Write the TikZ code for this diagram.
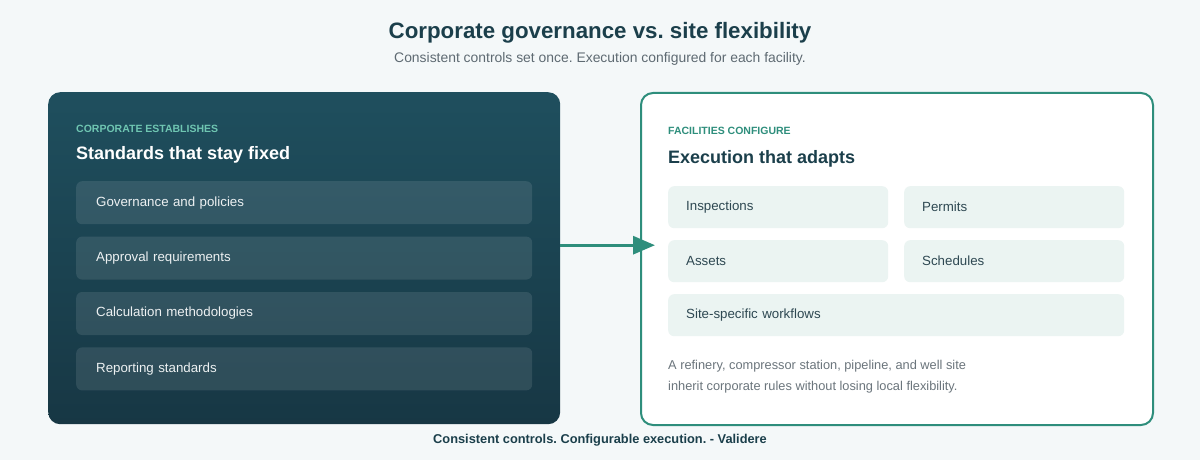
\documentclass[tikz,border=0pt]{standalone}
\usepackage{fontspec}
\setmainfont{Liberation Sans}
\usetikzlibrary{positioning,arrows.meta}

\definecolor{pagebg}{HTML}{F4F8F9}
\definecolor{ink}{HTML}{1B3F4B}
\definecolor{muted}{HTML}{5E6A72}
\definecolor{paneltop}{HTML}{1F4F5E}
\definecolor{panelbot}{HTML}{173744}
\definecolor{mint}{HTML}{6FC6B2}
\definecolor{teal}{HTML}{2E8E7C}
\definecolor{cellfill}{HTML}{EBF4F2}
\definecolor{celltext}{HTML}{2E4852}
\definecolor{notetext}{HTML}{6B757C}

\newcommand{\px}[1]{\fontsize{#1}{#1}\selectfont}
\frenchspacing

\begin{document}
\begin{tikzpicture}[x=1pt, y=-1pt, node distance=12pt,
    panel/.style={rectangle, rounded corners=12pt, minimum width=512pt,
                  minimum height=332pt, anchor=north west},
    eyebrow/.style={anchor=base west, inner sep=0pt, font=\px{10.5}\bfseries},
    heading/.style={anchor=base west, inner sep=0pt, font=\px{18}\bfseries},
    rule item/.style={rectangle, rounded corners=6pt, fill=white, fill opacity=0.1,
                      text opacity=1, text=white!92!paneltop, font=\px{13.3},
                      minimum height=43pt, text width=416pt, inner xsep=20pt,
                      align=left, anchor=north west},
    site cell/.style={rectangle, rounded corners=6pt, fill=cellfill, text=celltext,
                      font=\px{13.3}, minimum height=42pt, text width=184pt,
                      inner xsep=18pt, align=left, anchor=north west},
    flow/.style={draw=teal, line width=3pt, -{Triangle[length=22pt,width=18pt]}}]

  % page
  \fill[pagebg] (0,0) rectangle (1200,460);

  % title block
  \node[font=\px{22.3}\bfseries, text=ink] (title) at (600,33) {Corporate governance vs. site flexibility};
  \node[font=\px{13.9}, text=muted] (subtitle) at (600,59) {Consistent controls set once. Execution configured for each facility.};

  % corporate side
  \node[panel, top color=paneltop, bottom color=panelbot] (corp) at (48,92) {};
  \node[eyebrow, text=mint] (corptag) at (76,132) {CORPORATE ESTABLISHES};
  \node[heading, text=white] (corphead) at (76,159) {Standards that stay fixed};

  \node[rule item] (gov) at (76,181) {Governance and policies};
  \node[rule item] (appr) [below=of gov] {Approval requirements};
  \node[rule item] (calc) [below=of appr] {Calculation methodologies};
  \node[rule item] (rep) [below=of calc] {Reporting standards};

  % facility side
  \node[panel, fill=white, draw=teal, line width=2pt] (site) at (640,92) {};
  \node[eyebrow, text=teal] (sitetag) at (668,134) {FACILITIES CONFIGURE};
  \node[heading, text=ink] (sitehead) at (668,163) {Execution that adapts};

  \node[site cell] (insp) at (668,186) {Inspections};
  \node[site cell] (perm) at (904,186) {Permits};
  \node[site cell] (asset) at (668,240) {Assets};
  \node[site cell] (sched) at (904,240) {Schedules};
  \node[site cell, text width=420pt] (flows) at (668,294) {Site-specific workflows};

  \node[anchor=north west, font=\px{12.8}, text=notetext, align=left, inner sep=0pt]
    (note) at (668,360) {A refinery, compressor station, pipeline, and well site\\[8pt]
                         inherit corporate rules without losing local flexibility.};

  % connector
  \coordinate (flowstart) at ([yshift=13pt]corp.east);
  \draw[flow] (flowstart) -- ([xshift=15pt]flowstart -| site.west);

  % footer
  \node[font=\px{12.8}\bfseries, text=ink] (footer) at (600,440) {Consistent controls. Configurable execution. - Validere};
\end{tikzpicture}
\end{document}
